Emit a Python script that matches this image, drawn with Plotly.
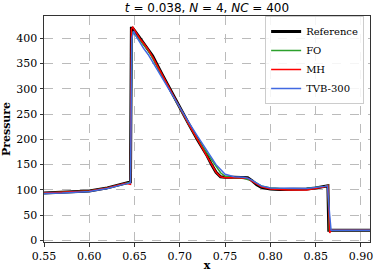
import plotly.graph_objects as go

# Reference solution
ref_x = [0.55, 0.57, 0.60, 0.62, 0.64, 0.6455, 0.6465, 0.648, 0.652, 0.656, 0.66, 0.665, 0.67, 0.68,
         0.69, 0.70, 0.71, 0.72, 0.73, 0.735, 0.74, 0.745, 0.75, 0.76, 0.77, 0.775, 0.78, 0.785,
         0.79, 0.80, 0.81, 0.82, 0.83, 0.84, 0.85, 0.86, 0.8635, 0.8645, 0.87, 0.88, 0.89, 0.91]
ref_p = [94, 95, 98, 104, 113, 116, 420, 420, 410, 400, 392, 380, 365, 330,
         296, 262, 230, 198, 168, 150, 135, 126, 125, 125, 125, 124, 118, 110,
         105, 102, 101, 101, 101, 102, 104, 107, 108, 20, 20, 20, 20, 20]

# FO
fo_x = [0.55, 0.57, 0.60, 0.62, 0.64, 0.6455, 0.647, 0.65, 0.655, 0.66, 0.665, 0.67, 0.68, 0.69,
        0.70, 0.71, 0.72, 0.73, 0.74, 0.745, 0.75, 0.76, 0.77, 0.78, 0.79, 0.80, 0.82, 0.84,
        0.86, 0.8635, 0.865, 0.87, 0.88, 0.91]
fo_p = [94, 95, 98, 104, 113, 115, 412, 408, 398, 388, 376, 360, 327, 294,
        260, 229, 199, 172, 146, 134, 127, 124, 123, 118, 108, 104, 102, 103,
        107, 109, 20, 20, 20, 20]

# MH
mh_x = [0.55, 0.57, 0.60, 0.62, 0.64, 0.6455, 0.6465, 0.648, 0.652, 0.656, 0.66, 0.665, 0.67, 0.68,
        0.69, 0.70, 0.71, 0.72, 0.73, 0.74, 0.745, 0.75, 0.76, 0.77, 0.775, 0.78, 0.79, 0.80,
        0.82, 0.84, 0.86, 0.8635, 0.8655, 0.867, 0.87, 0.88, 0.91]
mh_p = [94, 95, 98, 104, 113, 111, 418, 422, 410, 399, 390, 378, 363, 329,
        295, 261, 229, 198, 167, 135, 126, 124, 124, 124, 123, 117, 106, 102,
        100, 100, 106, 109, 15, 20, 20, 20, 20]

# TVB-300
tvb_x = [0.55, 0.57, 0.60, 0.62, 0.64, 0.6455, 0.647, 0.649, 0.652, 0.656, 0.66, 0.665, 0.67, 0.68,
         0.69, 0.70, 0.71, 0.72, 0.73, 0.74, 0.75, 0.76, 0.77, 0.775, 0.78, 0.79, 0.80, 0.82,
         0.84, 0.86, 0.863, 0.8655, 0.867, 0.87, 0.88, 0.91]
tvb_p = [93, 94, 97, 103, 112, 114, 400, 414, 403, 390, 380, 368, 353, 322,
         292, 262, 233, 205, 178, 150, 131, 126, 125, 123, 119, 108, 104, 103,
         103, 107, 108, 50, 20, 20, 20, 20]

x_ticks = [0.55, 0.60, 0.65, 0.70, 0.75, 0.80, 0.85, 0.90]
y_ticks = [0, 50, 100, 150, 200, 250, 300, 350, 400]

SERIF = "DejaVu Serif"

fig = go.Figure()
fig.add_trace(go.Scatter(x=ref_x, y=ref_p, mode="lines", name="Reference",
                         line=dict(color="black", width=3)))
fig.add_trace(go.Scatter(x=fo_x, y=fo_p, mode="lines", name="FO",
                         line=dict(color="#2ca02c", width=1.5)))
fig.add_trace(go.Scatter(x=mh_x, y=mh_p, mode="lines", name="MH",
                         line=dict(color="#ff0000", width=1.5)))
fig.add_trace(go.Scatter(x=tvb_x, y=tvb_p, mode="lines", name="TVB-300",
                         line=dict(color="#4169e1", width=1.5)))

axis_common = dict(
    showline=True, linecolor="#333", linewidth=1, mirror=True,
    ticks="outside", ticklen=3.5, tickcolor="#333",
    showgrid=True, gridcolor="#bbbbbb", griddash="dash", gridwidth=0.8,
    zeroline=False, tickfont=dict(family=SERIF, size=11, color="black"),
    automargin=False,
)

fig.update_layout(
    width=374, height=272,
    margin=dict(l=44, r=4, t=16, b=30),
    paper_bgcolor="white", plot_bgcolor="white",
    title=dict(text="<i>t</i> = 0.038, <i>N</i> = 4, <i>NC</i> = 400",
               font=dict(family="DejaVu Sans", size=12, color="black"),
               x=0.5, xanchor="center", y=0.97, yanchor="middle", xref="paper", yref="container"),
    xaxis=dict(range=[0.55, 0.91], tickvals=x_ticks, ticktext=[f"{v:.2f}" for v in x_ticks],
               title=dict(text="<b>x</b>", font=dict(family=SERIF, size=11, color="black"), standoff=0),
               **axis_common),
    yaxis=dict(range=[-3, 444], tickvals=y_ticks,
               title=dict(text="<b>Pressure</b>", font=dict(family=SERIF, size=11, color="black"), standoff=4),
               **axis_common),
    legend=dict(x=0.982, y=1.0, xanchor="right", yanchor="top",
                bgcolor="rgba(255,255,255,0.85)", bordercolor="#cccccc", borderwidth=1,
                font=dict(family=SERIF, size=10, color="black"),
                tracegroupgap=0, itemwidth=30),
    showlegend=True,
)

fig.write_html("out.html", config={"displayModeBar": False},
               post_script="document.body.style.margin='0';document.body.style.padding='0';")
